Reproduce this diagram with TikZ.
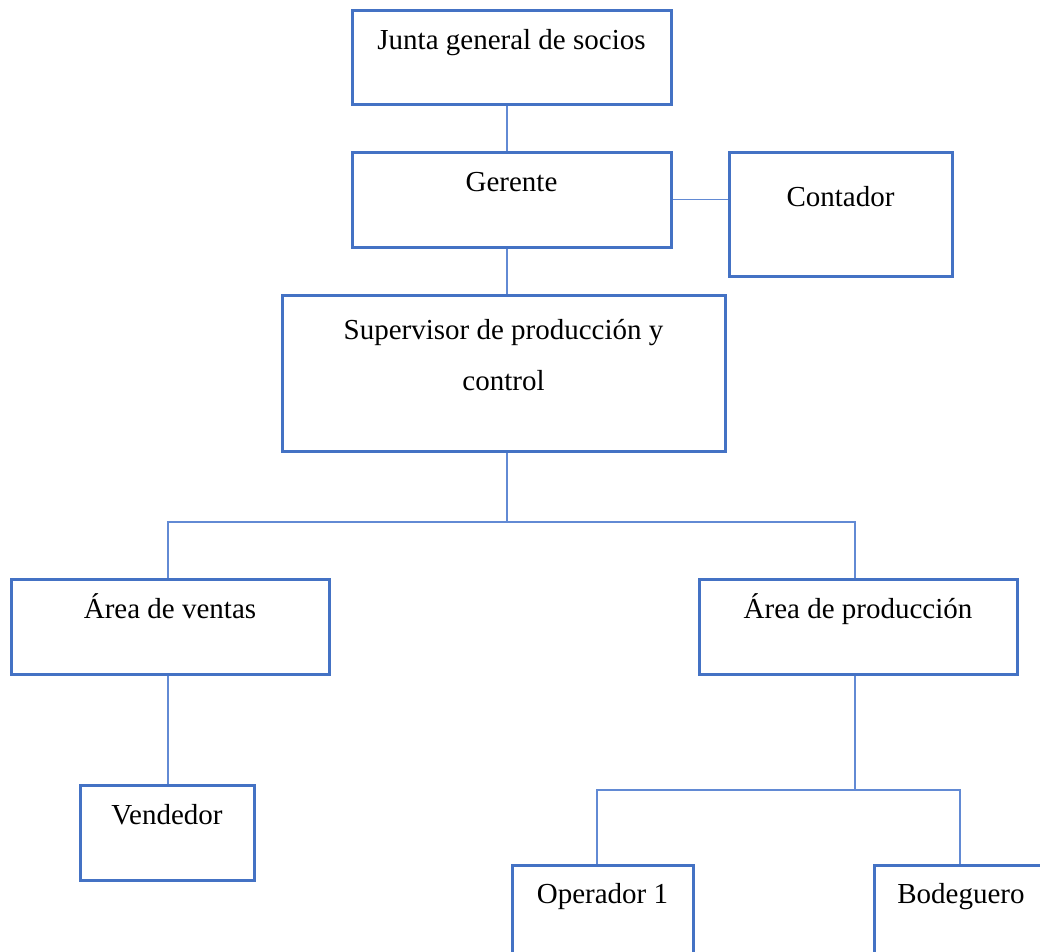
\documentclass[tikz,border=0pt]{standalone}
\usepackage{fontspec}
\setmainfont{Liberation Serif}
\definecolor{boxblue}{RGB}{68,114,196}
\definecolor{lineblue}{RGB}{98,138,212}
\begin{document}
\begin{tikzpicture}[x=1pt,y=-1pt,
  box/.style={draw=boxblue,line width=3pt,fill=white,rectangle,inner sep=0pt},
  lbl/.style={anchor=base,inner sep=0pt,font=\fontsize{29}{51}\selectfont,align=center},
  conn/.style={draw=lineblue,line width=1.4pt}]
\useasboundingbox (0,0) rectangle (1040,951);
\fill[white] (0,0) rectangle (1040,951);
\clip (0,0) rectangle (1040,951);
% boxes
\node[box,minimum width=319pt,minimum height=94pt] (junta) at (511.5,57) {};
\node[box,minimum width=319pt,minimum height=95pt] (gerente) at (511.5,199.5) {};
\node[box,minimum width=223pt,minimum height=124pt] (contador) at (840.5,214) {};
\node[box,minimum width=443pt,minimum height=156pt] (supervisor) at (503.5,373) {};
\node[box,minimum width=318pt,minimum height=95pt] (ventas) at (170,626.5) {};
\node[box,minimum width=318pt,minimum height=95pt] (prod) at (858,626.5) {};
\node[box,minimum width=174pt,minimum height=95pt] (vendedor) at (167,832.5) {};
\node[box,minimum width=181pt,minimum height=95pt] (operador) at (602.5,912.5) {};
\node[box,minimum width=174pt,minimum height=95pt] (bodeguero) at (961,912.5) {};
% texts
\node[lbl] (tjunta) at (511.5,49) {Junta general de socios};
\node[lbl] (tgerente) at (511.5,191) {Gerente};
\node[lbl] (tcontador) at (840.5,206) {Contador};
\node[lbl] (tsup1) at (503.5,339) {Supervisor de producción y};
\node[lbl] (tsup2) at (503.5,390) {control};
\node[lbl] (tventas) at (170,618) {Área de ventas};
\node[lbl] (tprod) at (858,618) {Área de producción};
\node[lbl] (tvendedor) at (167,824) {Vendedor};
\node[lbl] (toperador) at (602.5,903) {Operador 1};
\node[lbl] (tbodeguero) at (961,903) {Bodeguero};
% connectors
\coordinate (b1) at (507,522);
\coordinate (b2) at (855,790);
\draw[conn] (junta.south -| b1) -- (gerente.north -| b1);
\draw[conn] (gerente.south -| b1) -- (supervisor.north -| b1);
\draw[conn] (gerente.east) -- (contador.west |- gerente.east);
\draw[conn] (supervisor.south -| b1) -- (b1);
\draw[conn] (ventas.north -| 168,0) -- (b1 -| 168,0) -- (b1 -| 855,0) -- (prod.north -| 855,0);
\draw[conn] (ventas.south -| 168,0) -- (vendedor.north -| 168,0);
\draw[conn] (prod.south -| b2) -- (b2);
\draw[conn] (operador.north -| 597,0) -- (b2 -| 597,0) -- (b2 -| 960,0) -- (bodeguero.north -| 960,0);
\end{tikzpicture}
\end{document}
